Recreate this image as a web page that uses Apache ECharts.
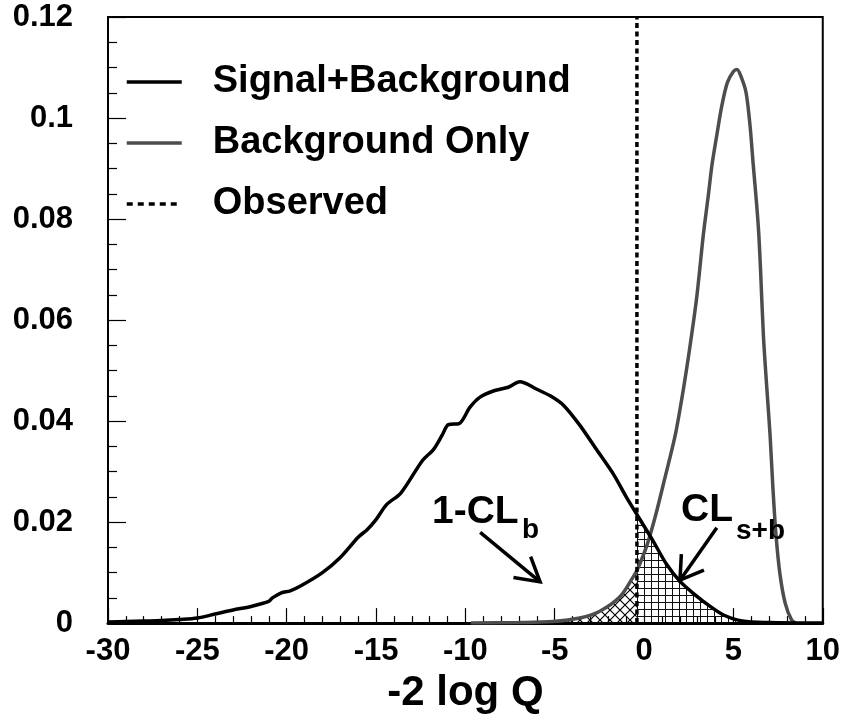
<!DOCTYPE html>
<html>
<head>
<meta charset="utf-8">
<script src="https://cdn.jsdelivr.net/npm/echarts@6/dist/echarts.min.js"></script>
<style>
html,body{margin:0;padding:0;background:#fff;}
#chart{width:843px;height:719px;}
</style>
</head>
<body>
<div id="chart"></div>
<script>
// ---- data ----
const obsX = -0.4;
const sbX = [-30,-29,-28,-27,-26,-25,-24,-23,-22,-21,-20.8,-20.3,-19.8,-19.2,-18,-17,-16,-15.5,-15,-14.4,-13.6,-12.4,-11.8,-11.3,-10.95,-10.35,-9.75,-9.2,-8.4,-7.6,-6.95,-6.0,-5.25,-4.5,-3.6,-2.65,-1.7,-1.0,-0.4,0.5,1.25,2.0,2.75,3.7,4.45,5.5,7,10];
const sbY = [0.0002,0.0003,0.0004,0.0005,0.0007,0.0010,0.0018,0.0026,0.0033,0.0043,0.0050,0.0060,0.0064,0.0074,0.0100,0.0130,0.0170,0.0185,0.0205,0.0235,0.0258,0.0322,0.0343,0.0372,0.0393,0.0395,0.0427,0.0447,0.0460,0.0467,0.0478,0.0463,0.0450,0.0431,0.0392,0.0343,0.0294,0.0250,0.0215,0.0163,0.0117,0.0083,0.0059,0.0033,0.0016,0.0004,0.0001,0];
const bX = [-9.7,-7,-5.1,-3.6,-2.5,-1.35,-0.6,-0.4,0.15,0.62,1.17,1.75,2.2,2.57,2.95,3.32,3.6,3.8,4.07,4.35,4.66,5.0,5.2,5.45,5.71,5.93,6.11,6.3,6.42,6.52,6.68,6.86,7.05,7.2,7.38,7.6,7.9,8.26,8.5];
const bY = [0,0.0001,0.0003,0.0010,0.0023,0.0052,0.0092,0.0104,0.0153,0.0210,0.0288,0.0373,0.0463,0.0548,0.0646,0.0770,0.0848,0.0907,0.0966,0.1024,0.1070,0.1092,0.1096,0.1080,0.1050,0.0985,0.0907,0.0829,0.0770,0.0698,0.0568,0.0470,0.0373,0.0274,0.0176,0.0098,0.0039,0.0006,0];
const seriesNames = ['Signal+Background','Background Only','Observed'];
const xLabelName = '-2 log Q';

const sbData = sbX.map((x,i)=>[x,sbY[i]]);
const bData = bX.map((x,i)=>[x,bY[i]]);
const obsData = [[obsX,0],[obsX,0.12]];

function pattern(size, draw){
  const c=document.createElement('canvas'); c.width=size; c.height=size;
  const g=c.getContext('2d'); draw(g,size); return c;
}
const crossPat = pattern(10,(g,s)=>{g.strokeStyle='#000';g.lineWidth=1.2;g.beginPath();
  g.moveTo(-1,-1);g.lineTo(s+1,s+1);g.moveTo(s+1,-1);g.lineTo(-1,s+1);g.stroke();});
const gridPat = pattern(7,(g,s)=>{g.fillStyle='#111';g.fillRect(0,0,s,1);g.fillRect(0,0,1,s);});

const FONT='Liberation Sans';
const GRAY='#4d4d4d';
const chart = echarts.init(document.getElementById('chart'));
chart.setOption({
  backgroundColor:'#fff',
  animation:false,
  grid:{left:108,right:20,top:17,bottom:89,show:true,borderColor:'#000',borderWidth:2,backgroundColor:'transparent'},
  legend:{
    data:[
      {name:seriesNames[0],lineStyle:{color:'#000',width:3.5,type:'solid'}},
      {name:seriesNames[1],lineStyle:{color:GRAY,width:3.5,type:'solid'}},
      {name:seriesNames[2],lineStyle:{color:'#000',width:3.5,type:[6,5]}}
    ],
    orient:'vertical', left:125, top:63, padding:0, itemWidth:55, itemHeight:14, itemGap:23,
    itemStyle:{opacity:0},
    textStyle:{fontFamily:FONT,fontWeight:'bold',fontSize:38,color:'#000',padding:[0,0,0,26]}
  },
  xAxis:{
    type:'value',min:-30,max:10,interval:5,
    name:xLabelName,nameLocation:'middle',nameGap:40,
    nameTextStyle:{fontFamily:FONT,fontWeight:'bold',fontSize:42,color:'#000'},
    axisLine:{lineStyle:{color:'#000',width:3}},
    axisTick:{inside:true,length:15,lineStyle:{color:'#000',width:1.2}},
    minorTick:{show:true,splitNumber:5,length:7,lineStyle:{color:'#000',width:1.2}},
    axisLabel:{fontFamily:FONT,fontWeight:'bold',fontSize:31,color:'#000',margin:13},
    splitLine:{show:false}
  },
  yAxis:{
    type:'value',min:0,max:0.12,interval:0.02,
    axisLine:{show:true,onZero:false,lineStyle:{color:'#000',width:2}},
    axisTick:{inside:true,length:18,lineStyle:{color:'#000',width:1.2}},
    minorTick:{show:true,splitNumber:4,length:9,lineStyle:{color:'#000',width:1.2}},
    axisLabel:{fontFamily:FONT,fontWeight:'bold',fontSize:31,color:'#000',margin:35},
    splitLine:{show:false}
  },
  series:[
    {type:'line',data:bData.filter(p=>p[0]<=obsX),symbol:'none',silent:true,
     lineStyle:{width:0,opacity:0},areaStyle:{color:{image:crossPat,repeat:'repeat'},opacity:1},z:1},
    {type:'line',data:sbData.filter(p=>p[0]>=obsX),symbol:'none',silent:true,
     lineStyle:{width:0,opacity:0},areaStyle:{color:{image:gridPat,repeat:'repeat'},opacity:1},z:1},
    {name:seriesNames[0],type:'line',data:sbData,symbol:'none',smooth:0.3,
     lineStyle:{color:'#000',width:3.5},itemStyle:{color:'#000'},z:4},
    {name:seriesNames[1],type:'line',data:bData,symbol:'none',smooth:0.3,
     lineStyle:{color:GRAY,width:3.5},itemStyle:{color:GRAY},z:3},
    {name:seriesNames[2],type:'line',data:obsData,symbol:'none',
     lineStyle:{color:'#000',width:3.5,type:[5,3.5]},itemStyle:{color:'#000'},z:5}
  ]
});

// annotations: arrows anchored in data coordinates
function arrow(tail, head, ang, len){
  const t=chart.convertToPixel({gridIndex:0},tail), h=chart.convertToPixel({gridIndex:0},head);
  const a=Math.atan2(t[1]-h[1],t[0]-h[0]), r=ang*Math.PI/180;
  const w1=[h[0]+len*Math.cos(a+r),h[1]+len*Math.sin(a+r)];
  const w2=[h[0]+len*Math.cos(a-r),h[1]+len*Math.sin(a-r)];
  return [
    {type:'polyline',shape:{points:[t,h]},style:{stroke:'#000',lineWidth:3.5,fill:null},z:10},
    {type:'polyline',shape:{points:[w1,h,w2]},style:{stroke:'#000',lineWidth:3.5,fill:null},z:10}
  ];
}
function txt(x,y,s,size){
  return {type:'text',left:x,top:y,style:{text:s,fontFamily:FONT,fontWeight:'bold',fontSize:size,fill:'#000'},z:10};
}
const g=[].concat(
  arrow([-9.17,0.01795],[-5.82,0.00816],30,27),
  arrow([4.07,0.0189],[2.01,0.0085],32,26),
  [txt(432,493,'1-CL',39), txt(522,516,'b',28), txt(681,491,'CL',39), txt(736,517,'s+b',28)]
);
chart.setOption({graphic:g});
</script>
</body>
</html>
